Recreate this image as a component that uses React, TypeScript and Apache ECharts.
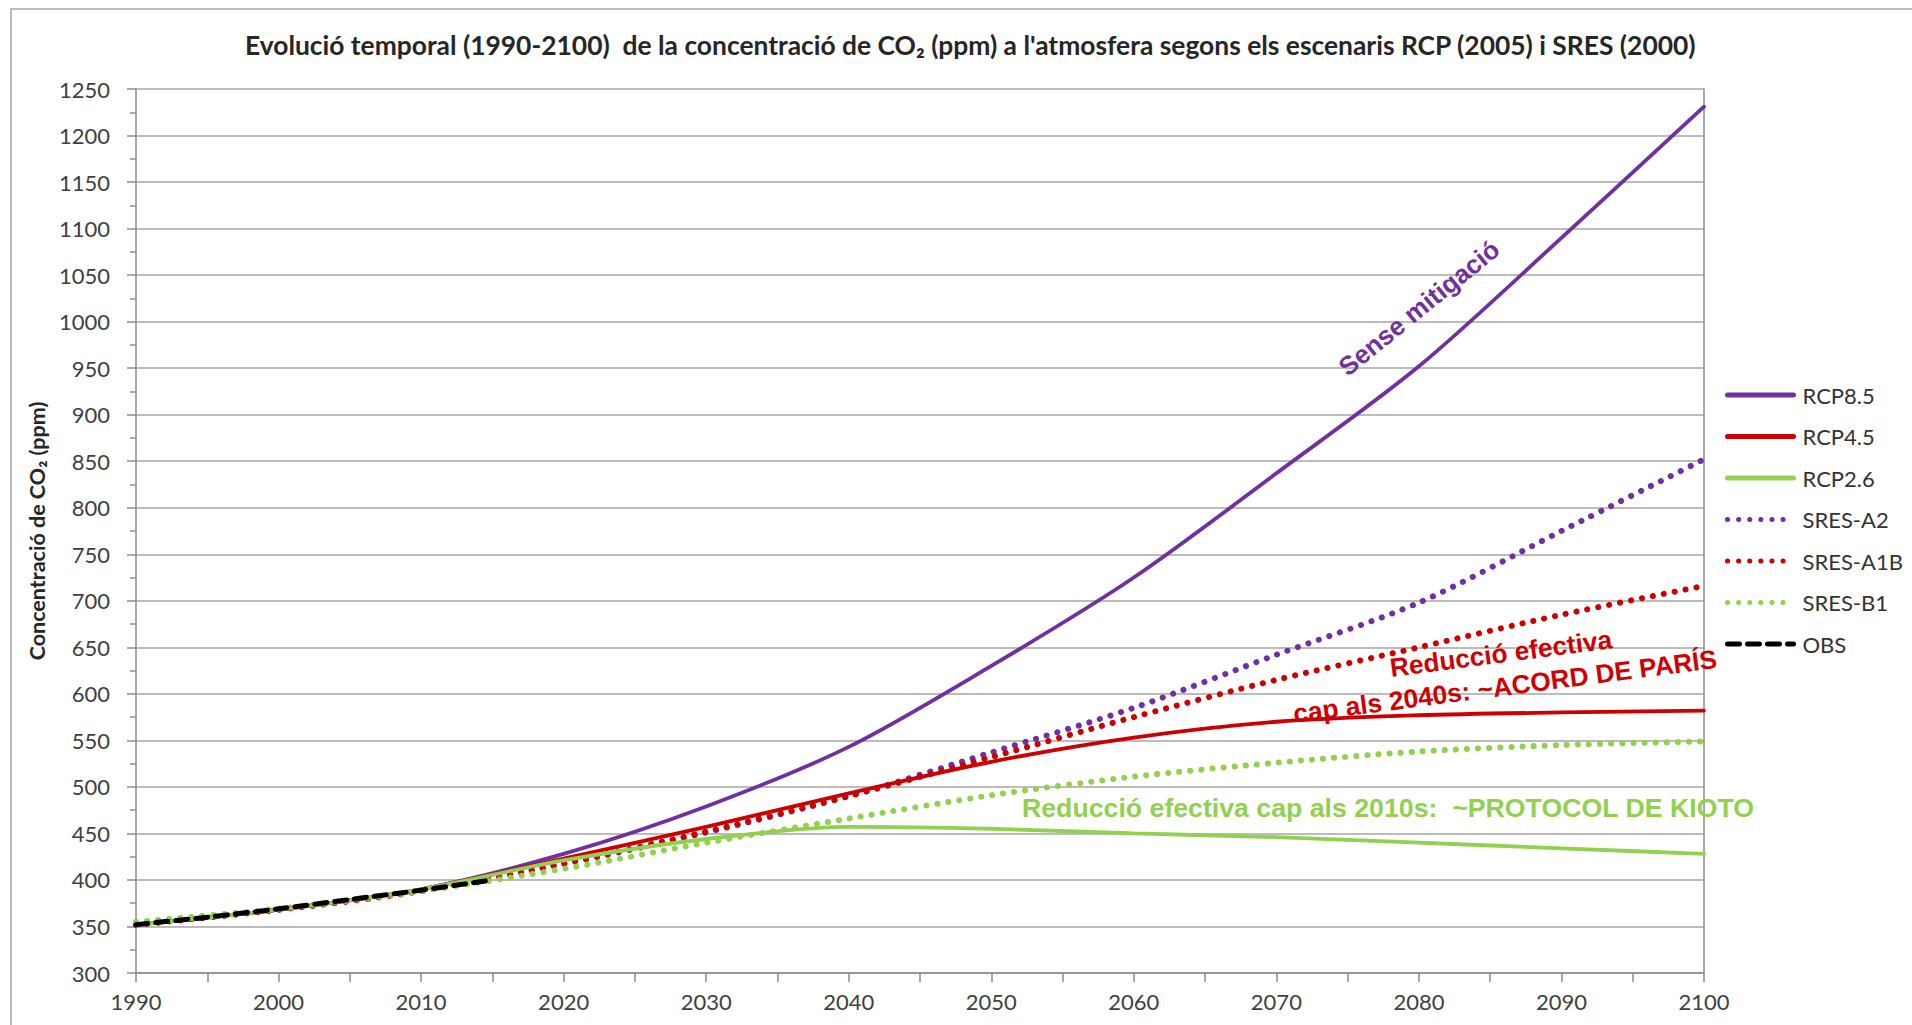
import React, { useEffect, useRef } from "react";
import * as echarts from "echarts";

const TITLE =
  "Evolució temporal (1990-2100)  de la concentració de CO₂ (ppm) a l'atmosfera segons els escenaris RCP (2005) i SRES (2000)";
const Y_NAME = "Concentració de CO₂ (ppm)";

const years = [1990, 2000, 2010, 2020, 2030, 2040, 2050, 2060, 2070, 2080, 2090, 2100];
const rcp85 = [352, 368, 390, 428, 479, 543, 630, 725, 837, 952, 1090, 1231];
const rcp45 = [352, 368, 390, 423, 457, 493, 527, 553, 570, 577, 580, 582];
const rcp26 = [352, 368, 390, 421, 444, 457, 455, 450, 446, 440, 434, 428];
const sresA2 = [352, 368, 388, 417, 451, 490, 537, 585, 642, 698, 775, 852];
const sresA1B = [352, 368, 388, 418, 452, 490, 532, 575, 615, 650, 685, 716];
const sresB1 = [355, 369, 388, 412, 440, 466, 491, 511, 526, 538, 545, 549];

const obsYears = [1990, 1995, 2000, 2005, 2010, 2015];
const obs = [352, 360, 369, 379, 389, 400];

const legendNames = ["RCP8.5", "RCP4.5", "RCP2.6", "SRES-A2", "SRES-A1B", "SRES-B1", "OBS"];

const PURPLE = "#7030A0";
const RED = "#CC0000";
const GREEN = "#92D050";
const GRID = "#a6a6a6";
const AXIS = "#8c8c8c";

const pairs = (xs: number[], vs: number[]) => xs.map((x, i) => [x, vs[i]]);

const solid = (name: string, color: string, values: number[]) => ({
  name,
  type: "line",
  data: pairs(years, values),
  symbol: "none",
  smooth: 0.3,
  lineStyle: { color, width: 3.8, cap: "round" },
  itemStyle: { color },
  z: 3,
});

const dotted = (name: string, color: string, values: number[]) => ({
  name,
  type: "line",
  data: pairs(years, values),
  symbol: "none",
  smooth: 0.3,
  lineStyle: { color, width: 6, type: [0.1, 11], cap: "round" },
  itemStyle: { color },
  z: 2,
});

export default function App() {
  const ref = useRef<HTMLDivElement>(null);

  useEffect(() => {
    if (!ref.current) return;
    const chart = echarts.init(ref.current, null, { renderer: "svg" });
    const axisFont = { fontFamily: "Lato", fontSize: 22, color: "#404040" };
    chart.setOption({
      animation: false,
      backgroundColor: "#ffffff",
      title: {
        text: TITLE,
        left: 240,
        top: 27,
        textStyle: { fontFamily: "Lato", fontWeight: "bold", fontSize: 26.4, color: "#262626" },
      },
      grid: { left: 136, right: 208, top: 89, bottom: 52, containLabel: false },
      legend: {
        orient: "vertical",
        left: 1720,
        top: 379,
        itemWidth: 66,
        itemHeight: 14,
        itemGap: 19.5,
        textStyle: { fontFamily: "Lato", fontSize: 22, color: "#333333", padding: [0, 0, 0, 4] },
        itemStyle: { color: "transparent", borderWidth: 0 },
        lineStyle: { width: 5 },
        data: legendNames,
      },
      xAxis: {
        type: "value",
        min: 1990,
        max: 2100,
        interval: 10,
        axisLine: { show: true, lineStyle: { color: AXIS, width: 1.5 } },
        axisTick: { show: true, length: 9, lineStyle: { color: AXIS, width: 1.5 } },
        minorTick: { show: true, splitNumber: 2, length: 9, lineStyle: { color: AXIS, width: 1.5 } },
        axisLabel: { ...axisFont, margin: 17, formatter: (v: number) => String(v) },
        splitLine: { show: false },
      },
      yAxis: [
        {
          type: "value",
          min: 300,
          max: 1250,
          interval: 50,
          name: Y_NAME,
          nameLocation: "middle",
          nameGap: 86,
          nameRotate: 90,
          nameTextStyle: { fontFamily: "Lato", fontWeight: "bold", fontSize: 21.5, color: "#262626" },
          axisLine: { show: true, lineStyle: { color: AXIS, width: 1.5 } },
          axisTick: { show: true, length: 9, lineStyle: { color: AXIS, width: 1.5 } },
          minorTick: { show: true, splitNumber: 2, length: 6, lineStyle: { color: AXIS, width: 1.5 } },
          axisLabel: { ...axisFont, margin: 26, formatter: (v: number) => String(v) },
          splitLine: { show: true, lineStyle: { color: GRID, width: 1.5 } },
        },
        {
          type: "value",
          position: "right",
          min: 300,
          max: 1250,
          interval: 50,
          axisLine: { show: true, lineStyle: { color: AXIS, width: 1.5 } },
          axisTick: { show: false },
          axisLabel: { show: false },
          splitLine: { show: false },
        },
      ],
      series: [
        solid("RCP8.5", PURPLE, rcp85),
        solid("RCP4.5", RED, rcp45),
        solid("RCP2.6", GREEN, rcp26),
        dotted("SRES-A2", PURPLE, sresA2),
        dotted("SRES-A1B", RED, sresA1B),
        dotted("SRES-B1", GREEN, sresB1),
        {
          name: "OBS",
          type: "line",
          data: pairs(obsYears, obs),
          symbol: "none",
          smooth: 0.3,
          lineStyle: { color: "#000000", width: 5, type: [12, 8], cap: "round" },
          itemStyle: { color: "#000000" },
          z: 4,
        },
      ],
      graphic: [
        {
          type: "rect",
          silent: true,
          z: -10,
          shape: { x: 11, y: 9, width: 1960, height: 1060 },
          style: { fill: "none", stroke: GRID, lineWidth: 1.5 },
        },
        {
          type: "text",
          x: 1419,
          y: 308,
          rotation: 0.68,
          z: 10,
          style: {
            text: "Sense mitigació",
            fill: PURPLE,
            fontFamily: "Liberation Sans",
            fontWeight: "bold",
            fontSize: 26,
            align: "center",
            verticalAlign: "middle",
          },
        },
        {
          type: "text",
          x: 1503,
          y: 670,
          rotation: 0.129,
          z: 10,
          style: {
            text: "Reducció efectiva\ncap als 2040s: ~ACORD DE PARÍS",
            fill: "#D00000",
            fontFamily: "Liberation Sans",
            fontWeight: "bold",
            fontSize: 26.3,
            lineHeight: 33,
            align: "center",
            verticalAlign: "middle",
          },
        },
        {
          type: "text",
          x: 1022,
          y: 808,
          z: 10,
          style: {
            text: "Reducció efectiva cap als 2010s:  ~PROTOCOL DE KIOTO",
            fill: GREEN,
            fontFamily: "Liberation Sans",
            fontWeight: "bold",
            fontSize: 26.7,
            align: "left",
            verticalAlign: "middle",
          },
        },
      ],
    });
    return () => chart.dispose();
  }, []);

  return (
    <div
      ref={ref}
      style={{ position: "fixed", left: 0, top: 0, width: "1912px", height: "1025px", background: "#fff" }}
    />
  );
}
